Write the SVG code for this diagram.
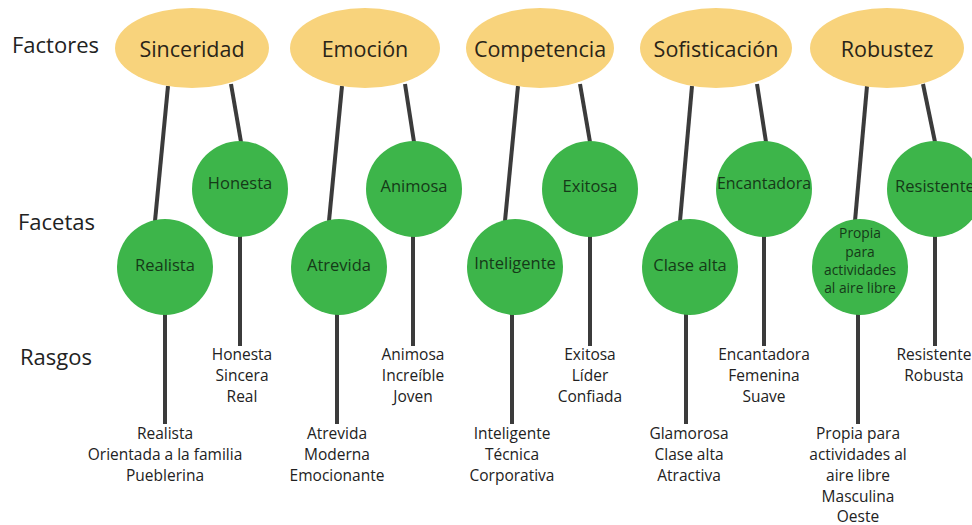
<svg xmlns="http://www.w3.org/2000/svg" width="972" height="525" viewBox="0 0 972 525">
<style>
.lbl{font-family:"Open Sans","Noto Sans","Liberation Sans",sans-serif;font-size:22px;fill:#222}
.fac{fill:#f8d37c}
.ftx{font-family:"Open Sans","Noto Sans","Liberation Sans",sans-serif;font-size:21.5px;fill:#2a2418;text-anchor:middle}
.cir{fill:#3db54a}
.ctx{font-family:"Open Sans","Noto Sans","Liberation Sans",sans-serif;font-size:16.5px;fill:#153a18;text-anchor:middle}
.csm{font-family:"Open Sans","Noto Sans","Liberation Sans",sans-serif;font-size:13.8px;fill:#153a18;text-anchor:middle}
.tr{font-family:"Open Sans","Noto Sans","Liberation Sans",sans-serif;font-size:15.5px;fill:#222;text-anchor:middle}
.ln{stroke:#3b3b3b;stroke-width:4;fill:none;stroke-linecap:butt}
</style>
<rect width="972" height="525" fill="#ffffff"/>
<g id="row-labels">
<text class="lbl" x="12" y="53">Factores</text>
<text class="lbl" x="18" y="230">Facetas</text>
<text class="lbl" x="20" y="365">Rasgos</text>
</g>
<g id="connectors">
<path class="ln" d="M168,86 L155,221"/>
<path class="ln" d="M231,84 L241,142"/>
<path class="ln" d="M342,86 L329,221"/>
<path class="ln" d="M405,84 L414,142"/>
<path class="ln" d="M518,86 L505,221"/>
<path class="ln" d="M580,84 L590,142"/>
<path class="ln" d="M692,86 L680,221"/>
<path class="ln" d="M757,84 L766,142"/>
<path class="ln" d="M867,86 L855,221"/>
<path class="ln" d="M923,84 L935,142"/>
<path class="ln" d="M165,314 L165,424"/>
<path class="ln" d="M240,236 L240,346"/>
<path class="ln" d="M337,314 L337,424"/>
<path class="ln" d="M413,236 L413,346"/>
<path class="ln" d="M512,314 L512,424"/>
<path class="ln" d="M590,236 L590,346"/>
<path class="ln" d="M686,314 L686,424"/>
<path class="ln" d="M764,236 L764,346"/>
<path class="ln" d="M858,314 L858,424"/>
<path class="ln" d="M935,236 L935,346"/>
</g>
<g id="factor-sinceridad"><ellipse class="fac" cx="192" cy="48" rx="77" ry="40"/><text class="ftx" x="192" y="57">Sinceridad</text></g>
<g id="factor-emocion"><ellipse class="fac" cx="365" cy="48" rx="75" ry="40"/><text class="ftx" x="365" y="57">Emoción</text></g>
<g id="factor-competencia"><ellipse class="fac" cx="540" cy="48" rx="74" ry="40"/><text class="ftx" x="540" y="57">Competencia</text></g>
<g id="factor-sofisticacion"><ellipse class="fac" cx="716" cy="48" rx="76" ry="40"/><text class="ftx" x="716" y="57">Sofisticación</text></g>
<g id="factor-robustez"><ellipse class="fac" cx="887" cy="48" rx="77" ry="40"/><text class="ftx" x="887" y="57">Robustez</text></g>
<g id="faceta-realista"><circle class="cir" cx="165" cy="267" r="48"/><text class="ctx" x="165" y="271">Realista</text></g>
<g id="faceta-honesta"><circle class="cir" cx="240" cy="189" r="48"/><text class="ctx" x="240" y="189">Honesta</text></g>
<g id="faceta-atrevida"><circle class="cir" cx="339" cy="267" r="48"/><text class="ctx" x="339" y="271">Atrevida</text></g>
<g id="faceta-animosa"><circle class="cir" cx="414" cy="189" r="48"/><text class="ctx" x="414" y="192">Animosa</text></g>
<g id="faceta-inteligente"><circle class="cir" cx="515" cy="267" r="48"/><text class="ctx" x="515" y="269">Inteligente</text></g>
<g id="faceta-exitosa"><circle class="cir" cx="590" cy="189" r="48"/><text class="ctx" x="590" y="192">Exitosa</text></g>
<g id="faceta-clase-alta"><circle class="cir" cx="690" cy="267" r="48"/><text class="ctx" x="690" y="271">Clase alta</text></g>
<g id="faceta-encantadora"><circle class="cir" cx="764" cy="189" r="48"/><text class="ctx" x="764" y="189" textLength="94" lengthAdjust="spacingAndGlyphs">Encantadora</text></g>
<g id="faceta-propia"><circle class="cir" cx="860" cy="267" r="48"/><text class="csm" x="860" y="238">Propia</text><text class="csm" x="860" y="257">para</text><text class="csm" x="860" y="275">actividades</text><text class="csm" x="860" y="293">al aire libre</text></g>
<g id="faceta-resistente"><circle class="cir" cx="935" cy="189" r="48"/><text class="ctx" x="935" y="192">Resistente</text></g>
<g id="rasgos-realista"><text class="tr" x="165" y="439">Realista</text><text class="tr" x="165" y="460">Orientada a la familia</text><text class="tr" x="165" y="481">Pueblerina</text></g>
<g id="rasgos-honesta"><text class="tr" x="242" y="360">Honesta</text><text class="tr" x="242" y="381">Sincera</text><text class="tr" x="242" y="402">Real</text></g>
<g id="rasgos-atrevida"><text class="tr" x="337" y="439">Atrevida</text><text class="tr" x="337" y="460">Moderna</text><text class="tr" x="337" y="481">Emocionante</text></g>
<g id="rasgos-animosa"><text class="tr" x="413" y="360">Animosa</text><text class="tr" x="413" y="381">Increíble</text><text class="tr" x="413" y="402">Joven</text></g>
<g id="rasgos-inteligente"><text class="tr" x="512" y="439">Inteligente</text><text class="tr" x="512" y="460">Técnica</text><text class="tr" x="512" y="481">Corporativa</text></g>
<g id="rasgos-exitosa"><text class="tr" x="590" y="360">Exitosa</text><text class="tr" x="590" y="381">Líder</text><text class="tr" x="590" y="402">Confiada</text></g>
<g id="rasgos-clase-alta"><text class="tr" x="689" y="439">Glamorosa</text><text class="tr" x="689" y="460">Clase alta</text><text class="tr" x="689" y="481">Atractiva</text></g>
<g id="rasgos-encantadora"><text class="tr" x="764" y="360">Encantadora</text><text class="tr" x="764" y="381">Femenina</text><text class="tr" x="764" y="402">Suave</text></g>
<g id="rasgos-propia"><text class="tr" x="858" y="439">Propia para</text><text class="tr" x="858" y="460">actividades al</text><text class="tr" x="858" y="481">aire libre</text><text class="tr" x="858" y="502">Masculina</text><text class="tr" x="858" y="522">Oeste</text></g>
<g id="rasgos-resistente"><text class="tr" x="934" y="360">Resistente</text><text class="tr" x="934" y="381">Robusta</text></g>
</svg>
